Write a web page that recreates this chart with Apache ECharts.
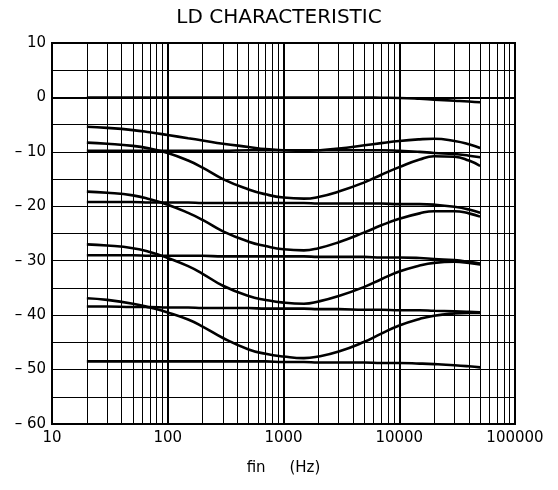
<!DOCTYPE html>
<html>
<head>
<meta charset="utf-8">
<script src="https://cdn.jsdelivr.net/npm/echarts@6/dist/echarts.min.js"></script>
<style>
html,body{margin:0;padding:0;background:#fff;}
#chart{width:558px;height:490px;}
</style>
</head>
<body>
<div id="chart"></div>
<script>
// Frequencies (Hz) at which the curves were read
const freqs = [20, 30, 50, 70, 100, 150, 200, 300, 500, 700, 1000, 1500, 2000, 3000, 5000, 7000, 10000, 15000, 20000, 30000, 40000, 50000];

// Curve values (dB)
const curve0  = [0, 0, 0, 0, 0, 0, 0, 0, 0, 0, 0, 0, 0, 0, 0, -0.05, -0.1, -0.25, -0.4, -0.6, -0.75, -0.9];
const curve1  = [-5.4, -5.6, -6.0, -6.4, -6.9, -7.5, -7.9, -8.5, -9.1, -9.5, -9.7, -9.8, -9.7, -9.4, -8.8, -8.4, -8.0, -7.7, -7.6, -8.0, -8.6, -9.3];
const curve2  = [-9.8, -9.8, -9.8, -9.8, -9.8, -9.8, -9.8, -9.8, -9.7, -9.7, -9.7, -9.7, -9.7, -9.7, -9.7, -9.7, -9.8, -10.0, -10.2, -10.4, -10.7, -11.0];
const curve3  = [-8.3, -8.5, -8.9, -9.4, -10.2, -11.6, -12.9, -15.0, -16.9, -17.8, -18.4, -18.6, -18.3, -17.3, -15.6, -14.2, -12.8, -11.4, -10.8, -10.9, -11.6, -12.6];
const curve4  = [-19.2, -19.2, -19.2, -19.3, -19.3, -19.3, -19.4, -19.4, -19.4, -19.4, -19.4, -19.4, -19.5, -19.5, -19.5, -19.5, -19.6, -19.6, -19.7, -20.1, -20.6, -21.2];
const curve5  = [-17.3, -17.5, -18.0, -18.7, -19.7, -21.2, -22.5, -24.6, -26.5, -27.3, -27.9, -28.1, -27.7, -26.6, -24.8, -23.5, -22.3, -21.3, -20.9, -20.9, -21.3, -21.9];
const curve6  = [-29.0, -29.0, -29.0, -29.1, -29.1, -29.1, -29.1, -29.2, -29.2, -29.2, -29.2, -29.2, -29.3, -29.3, -29.3, -29.4, -29.4, -29.5, -29.7, -29.9, -30.2, -30.5];
const curve7  = [-27.0, -27.2, -27.7, -28.4, -29.5, -31.0, -32.4, -34.6, -36.5, -37.2, -37.7, -37.9, -37.5, -36.5, -34.8, -33.4, -32.0, -30.9, -30.4, -30.2, -30.4, -30.7];
const curve8  = [-38.4, -38.4, -38.5, -38.5, -38.6, -38.6, -38.7, -38.7, -38.7, -38.8, -38.8, -38.8, -38.9, -38.9, -39.0, -39.0, -39.1, -39.1, -39.2, -39.3, -39.4, -39.5];
const curve9  = [-36.9, -37.2, -37.9, -38.6, -39.5, -40.8, -42.1, -44.2, -46.3, -47.1, -47.6, -47.9, -47.6, -46.7, -44.9, -43.4, -41.9, -40.7, -40.1, -39.7, -39.6, -39.6];
const curve10 = [-48.5, -48.5, -48.5, -48.5, -48.5, -48.5, -48.5, -48.5, -48.5, -48.5, -48.6, -48.6, -48.7, -48.7, -48.7, -48.8, -48.8, -48.9, -49.0, -49.2, -49.4, -49.6];

const curves = [curve0, curve1, curve2, curve3, curve4, curve5, curve6, curve7, curve8, curve9, curve10];

// Minor (log) vertical grid line positions
const minorFreqs = [20, 30, 40, 50, 60, 70, 80, 90,
                    200, 300, 400, 500, 600, 700, 800, 900,
                    2000, 3000, 4000, 5000, 6000, 7000, 8000, 9000,
                    20000, 30000, 40000, 50000, 60000, 70000, 80000, 90000];

const titleText = 'LD CHARACTERISTIC';
const xName = 'fin     (Hz)';

const FONT = 'DejaVu Sans';

const series = curves.map((c, i) => ({
  type: 'line',
  data: freqs.map((f, k) => [f, c[k]]),
  smooth: 0.5,
  symbol: 'none',
  z: 5,
  lineStyle: { color: '#000', width: 2.6 },
  animation: false
}));

series.push({
  type: 'line',
  data: [],
  symbol: 'none',
  z: 2,
  silent: true,
  markLine: {
    silent: true,
    symbol: ['none', 'none'],
    label: { show: false },
    animation: false,
    lineStyle: { color: '#000', width: 1, type: 'solid' },
    emphasis: { disabled: true },
    data: minorFreqs.map(f => ({ xAxis: f }))
  }
});

const chart = echarts.init(document.getElementById('chart'));
chart.setOption({
  animation: false,
  backgroundColor: '#fff',
  title: {
    text: titleText,
    left: 'center',
    top: 3,
    textStyle: { fontFamily: FONT, fontSize: 20, fontWeight: 'normal', color: '#000' }
  },
  grid: {
    left: 52, right: 43, top: 43, bottom: 66,
    show: true, borderColor: '#000', borderWidth: 2, backgroundColor: 'transparent'
  },
  xAxis: {
    type: 'log',
    logBase: 10,
    min: 10,
    max: 100000,
    name: xName,
    nameLocation: 'middle',
    nameGap: 37,
    nameTextStyle: { fontFamily: FONT, fontSize: 15, color: '#000' },
    axisLine: { show: true, lineStyle: { color: '#000', width: 2 } },
    axisTick: { show: false },
    axisLabel: {
      fontFamily: FONT, fontSize: 15, color: '#000', margin: 7,
      formatter: v => String(Math.round(v))
    },
    splitLine: { show: true, lineStyle: { color: '#000', width: 2 } }
  },
  yAxis: {
    type: 'value',
    min: -60,
    max: 10,
    interval: 10,
    axisLine: { show: true, lineStyle: { color: '#000', width: 2 } },
    axisTick: { show: false },
    axisLabel: {
      fontFamily: FONT, fontSize: 15, color: '#000', margin: 6,
      formatter: v => v < 0 ? '\u2013 ' + (-v) : String(v)
    },
    splitLine: { show: true, lineStyle: { color: '#000', width: 1.2 } },
    minorTick: { show: false, splitNumber: 2 },
    minorSplitLine: { show: true, lineStyle: { color: '#000', width: 1 } }
  },
  series: series
});
</script>
</body>
</html>
